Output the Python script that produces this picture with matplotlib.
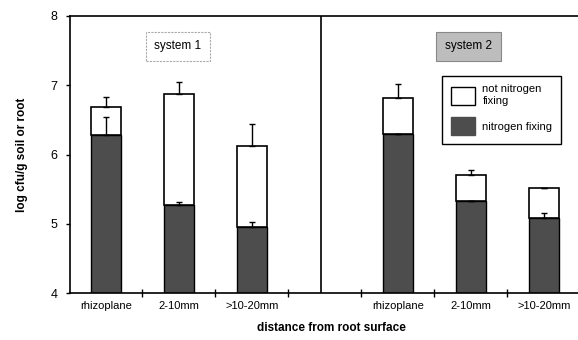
import matplotlib
matplotlib.use("Agg")
import matplotlib.pyplot as plt
from matplotlib.patches import Patch
import numpy as np

plt.rcParams['font.family'] = ['Liberation Sans', 'DejaVu Sans']

categories = ["rhizoplane", "2-10mm", ">10-20mm"]
systems = ["system 1", "system 2"]

fix1 = [6.28, 5.27, 4.96]
total1 = [6.69, 6.87, 6.12]
err_fix1 = [0.26, 0.04, 0.06]
err_total1 = [0.14, 0.18, 0.32]

fix2 = [6.29, 5.33, 5.08]
total2 = [6.82, 5.70, 5.52]
err_fix2 = [0.0, 0.0, 0.08]
err_total2 = [0.20, 0.07, 0.0]

y_ticks = [4, 5, 6, 7, 8]

dark = "#4d4d4d"

fig = plt.figure(figsize=(5.78, 3.40), dpi=100)
ax = fig.add_axes([70/578, 47/340, 508/578, 277/340])

pos1 = np.array([0, 1, 2])
pos2 = np.array([4, 5, 6])
width = 0.41
base = 4

for pos, fix, tot, ef, et in [(pos1, fix1, total1, err_fix1, err_total1),
                              (pos2, fix2, total2, err_fix2, err_total2)]:
    fix = np.array(fix); tot = np.array(tot)
    ax.bar(pos, fix - base, bottom=base, width=width, color=dark,
           edgecolor="black", linewidth=1.0, zorder=2)
    ax.bar(pos, tot - fix, bottom=fix, width=width, color="white",
           edgecolor="black", linewidth=1.2, zorder=2)
    ef = np.array(ef); et = np.array(et)
    ax.errorbar(pos, fix, yerr=[np.zeros_like(ef), ef], fmt="none",
                ecolor="black", elinewidth=1.0, capsize=2.5, capthick=1.0, zorder=3)
    ax.errorbar(pos, tot, yerr=[np.zeros_like(et), et], fmt="none",
                ecolor="black", elinewidth=1.0, capsize=2.5, capthick=1.0, zorder=3)

ax.set_xlim(-0.49, 6.47)
ax.set_ylim(4, 8)
ax.set_yticks(y_ticks)
ax.set_yticklabels([str(v) for v in y_ticks], fontsize=9)

ax.set_xticks([0.5, 1.5, 2.5, 3.5, 4.5, 5.5])
ax.set_xticklabels([])
ax.set_xticks(list(pos1) + list(pos2), minor=True)
ax.set_xticklabels(categories + categories, minor=True, fontsize=8)
ax.tick_params(axis="x", which="major", direction="inout", length=6, width=1.0)
ax.tick_params(axis="x", which="minor", length=0, pad=6)
ax.tick_params(axis="y", direction="out", length=3, width=1.0, pad=6)

ax.spines["right"].set_visible(False)
for s in ["left", "bottom", "top"]:
    ax.spines[s].set_linewidth(1.2)

ax.axvline(2.95, color="black", linewidth=1.2, zorder=1)

ax.text(0.99, 7.56, systems[0], ha="center", va="center", fontsize=8.5,
        bbox=dict(boxstyle="square,pad=0.75", facecolor="white",
                  edgecolor="#aaaaaa", linewidth=0.8, linestyle=(0, (2, 1))))
ax.text(4.97, 7.56, systems[1], ha="center", va="center", fontsize=8.5,
        bbox=dict(boxstyle="square,pad=0.75", facecolor="#bdbdbd",
                  edgecolor="#888888", linewidth=0.8))

handles = [Patch(facecolor="white", edgecolor="black", linewidth=1.0),
           Patch(facecolor=dark, edgecolor=dark, linewidth=1.0)]
leg = ax.legend(handles, ["not nitrogen\nfixing", "nitrogen fixing"],
                loc="upper left", bbox_to_anchor=(0.733, 0.785),
                fontsize=8, frameon=True, fancybox=False,
                edgecolor="black", framealpha=1, handlelength=2.1,
                handleheight=2.1, labelspacing=1.0, handletextpad=0.7,
                borderpad=0.8, borderaxespad=0)
leg.get_frame().set_linewidth(1.0)

ax.set_ylabel("log cfu/g soil or root", fontsize=8.5, fontweight="bold", labelpad=14)
ax.yaxis.set_label_coords(-0.083, 0.5)
ax.set_xlabel("distance from root surface", fontsize=8.5, fontweight="bold", labelpad=14)
ax.xaxis.set_label_coords(0.515, -0.105)

fig.savefig("out.png", dpi=100)
